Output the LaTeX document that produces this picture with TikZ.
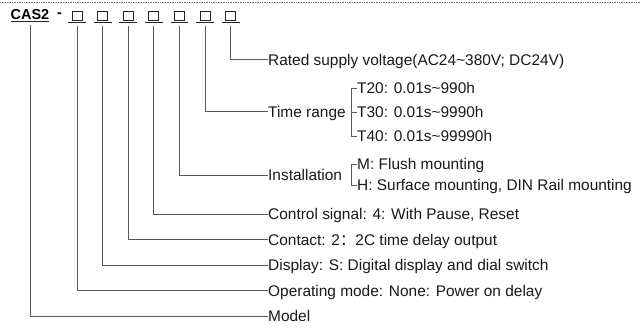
\documentclass[tikz,border=0pt]{standalone}
\usepackage{fontspec}
\setmainfont{Liberation Sans}
\newfontfamily\cjk{Noto Sans CJK SC}
\tikzset{
  lbl/.style={anchor=west, inner sep=0pt, text height=11.1bp, text depth=0pt, text=black!90, font=\fontsize{15.5}{18}\selectfont},
  slot/.style={rectangle, draw=black!85, line width=0.8bp, minimum width=10bp, minimum height=9bp, inner sep=0pt},
  lead/.style={draw=black!65, line width=0.9bp},
}
\begin{document}
\begin{tikzpicture}[x=1bp, y=-1bp]
\useasboundingbox (0,0) rectangle (641,328);
\draw[black!55, line width=0.8bp, dash pattern=on 0.8bp off 0.9bp] (0,2) -- (641,2);
\node[inner sep=0pt, text height=0pt, text depth=0pt, anchor=base, font=\fontsize{14.5}{16}\bfseries\selectfont] (CAS) at (30,19.5) {CAS2};
\draw[black!85, line width=0.9bp] ([yshift=-2bp]CAS.base west) -- ([yshift=-2bp]CAS.base east);
\node[inner sep=0pt, font=\fontsize{14.5}{16}\bfseries\selectfont] (D) at (59.5,15) {-};
\foreach \i in {1,...,7} {
  \node[slot] (B\i) at ({77+25.6*(\i-1)},16) {};
  \draw[black!85, line width=0.9bp] ([xshift=-3.5bp,yshift=-1.5bp]B\i.south west) -- ([xshift=3.5bp,yshift=-1.5bp]B\i.south east);
}
% labels
\node[lbl] (L1) at (268,59.5) {Rated supply voltage(AC24\char"007E 380V; DC24V)};
\node[lbl] (L2) at (268,111.5) {Time range};
\node[lbl] (L3) at (268,175) {Installation};
\node[lbl] (L4) at (268,214) {Control signal: 4: With Pause, Reset};
\node[lbl] (L5) at (268,239.5) {Contact: 2{\cjk ：}2C time delay output};
\node[lbl] (L6) at (268,265) {Display: S: Digital display and dial switch};
\node[lbl] (L7) at (268,290.5) {Operating mode: None: Power on delay};
\node[lbl] (L8) at (268,316) {Model};
% sub options
\node[lbl] (T20) at (357,88) {T20: 0.01s\char"007E 990h};
\node[lbl] (T30) at (357,112) {T30: 0.01s\char"007E 9990h};
\node[lbl] (T40) at (357,136) {T40: 0.01s\char"007E 99990h};
\node[lbl] (IM) at (357,164) {M: Flush mounting};
\node[lbl] (IH) at (357,185) {H: Surface mounting, DIN Rail mounting};
% leads
\draw[lead] ([yshift=-5bp]B7.south) |- (L1.west);
\draw[lead] ([yshift=-5bp]B6.south) |- (L2.west);
\draw[lead] ([yshift=-5bp]B5.south) |- (L3.west);
\draw[lead] ([yshift=-5bp]B4.south) |- (L4.west);
\draw[lead] ([yshift=-5bp]B3.south) |- (L5.west);
\draw[lead] ([yshift=-5bp]B2.south) |- (L6.west);
\draw[lead] ([yshift=-5bp]B1.south) |- (L7.west);
\draw[lead] ([yshift=-5bp]CAS.base) |- (L8.west);
% brackets
\draw[lead] (T20.west) -- ++(-6,0) |- (T40.west);
\draw[lead] (T30.west) -- ++(-6,0);
\draw[lead] (IM.west) -- ++(-6,0) |- (IH.west);
\end{tikzpicture}
\end{document}
